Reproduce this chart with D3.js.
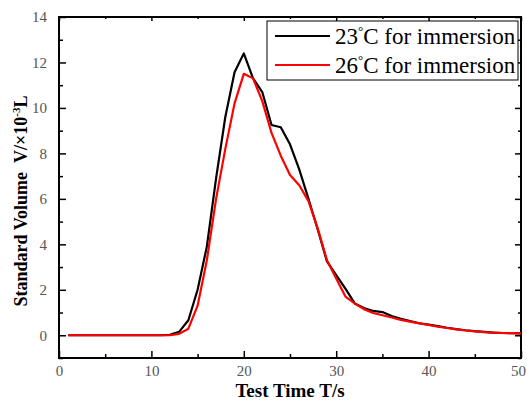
<!DOCTYPE html>
<html>
<head>
<meta charset="utf-8">
<script src="https://cdn.jsdelivr.net/npm/d3@7"></script>
<style>
  body { margin: 0; background: #fff; }
</style>
</head>
<body>
<div id="chart"></div>
<script>
(() => {
  const width = 527;
  const height = 400;

  // test time (s)
  const times = d3.range(1, 51);
  // 23 C immersion
  const vol23 = [0, 0, 0, 0, 0, 0, 0, 0, 0, 0, 0, 0.02, 0.15, 0.66, 2.0, 3.9, 6.9, 9.6, 11.57, 12.4,
    11.3, 10.7, 9.25, 9.15, 8.4, 7.3, 6.0, 4.65, 3.25, 2.65, 2.05, 1.4, 1.2, 1.07, 1.02,
    0.85, 0.72, 0.62, 0.53, 0.47, 0.4, 0.33, 0.27, 0.22, 0.18, 0.15, 0.12, 0.1, 0.09, 0.08];
  // 26 C immersion
  const vol26 = [0, 0, 0, 0, 0, 0, 0, 0, 0, 0, 0, 0.0, 0.06, 0.29, 1.3, 3.3, 6.0, 8.2, 10.2, 11.5,
    11.3, 10.3, 8.9, 7.9, 7.05, 6.6, 5.9, 4.7, 3.3, 2.5, 1.7, 1.4, 1.15, 0.98, 0.88,
    0.78, 0.68, 0.6, 0.52, 0.45, 0.38, 0.32, 0.26, 0.21, 0.17, 0.14, 0.12, 0.1, 0.09, 0.08];

  const xTicks = [0, 10, 20, 30, 40, 50];
  const xMinor = [5, 15, 25, 35, 45];
  const yTicks = [0, 2, 4, 6, 8, 10, 12, 14];
  const yMinor = [-1, 1, 3, 5, 7, 9, 11, 13];

  const margin = { top: 17, right: 6, bottom: 42, left: 59 };
  const iw = width - margin.left - margin.right;
  const ih = height - margin.top - margin.bottom;

  const x = d3.scaleLinear().domain([0, 50]).range([0, iw]);
  const y = d3.scaleLinear().domain([-1, 14]).range([ih, 0]);

  const svg = d3.select("#chart").append("svg")
    .attr("width", width)
    .attr("height", height)
    .style("display", "block");

  const g = svg.append("g")
    .attr("transform", `translate(${margin.left},${margin.top})`);

  const tickFont = "'Liberation Serif', serif";

  // axes, ticks inward
  const bottom = g.append("g").attr("transform", `translate(0,${ih})`)
    .call(d3.axisBottom(x).tickValues(xTicks).tickSize(-7).tickPadding(7));
  bottom.append("g").call(d3.axisBottom(x).tickValues(xMinor).tickSize(-4).tickFormat(""));
  // keep the last label inside the window
  bottom.selectAll(".tick text").filter(d => d === 50).attr("dx", -3);
  const top = g.append("g")
    .call(d3.axisTop(x).tickValues(xTicks).tickSize(-4).tickFormat(""));
  top.append("g").call(d3.axisTop(x).tickValues(xMinor).tickSize(-2).tickFormat(""));

  const left = g.append("g")
    .call(d3.axisLeft(y).tickValues(yTicks).tickSize(-7).tickPadding(12));
  left.append("g").call(d3.axisLeft(y).tickValues(yMinor).tickSize(-4).tickFormat(""));
  const right = g.append("g").attr("transform", `translate(${iw},0)`)
    .call(d3.axisRight(y).tickValues(yTicks).tickSize(-6).tickFormat(""));
  right.append("g").call(d3.axisRight(y).tickValues(yMinor).tickSize(-3).tickFormat(""));

  g.selectAll(".domain").remove();
  g.selectAll(".tick line").attr("stroke", "#000").attr("stroke-width", 1.5);
  g.selectAll(".tick text")
    .attr("font-family", tickFont)
    .attr("font-size", 15)
    .attr("fill", "#555");

  g.append("rect")
    .attr("width", iw)
    .attr("height", ih)
    .attr("fill", "none")
    .attr("stroke", "#000")
    .attr("stroke-width", 2);

  const line = vals => d3.line()
    .x((d, i) => x(times[i]))
    .y(d => y(d))(vals);

  g.append("path")
    .attr("d", line(vol23))
    .attr("fill", "none")
    .attr("stroke", "#000")
    .attr("stroke-width", 2.2)
    .attr("stroke-linejoin", "round");

  g.append("path")
    .attr("d", line(vol26))
    .attr("fill", "none")
    .attr("stroke", "#ff0000")
    .attr("stroke-width", 2.2)
    .attr("stroke-linejoin", "round");

  // legend
  const legend = svg.append("g");
  legend.append("rect")
    .attr("x", 267).attr("y", 21)
    .attr("width", 251).attr("height", 59)
    .attr("fill", "#fff")
    .attr("stroke", "#000")
    .attr("stroke-width", 1);

  const items = [
    { t: "23", color: "#000", yy: 36 },
    { t: "26", color: "#ff0000", yy: 65 }
  ];
  items.forEach(it => {
    legend.append("line")
      .attr("x1", 275).attr("x2", 330)
      .attr("y1", it.yy).attr("y2", it.yy)
      .attr("stroke", it.color)
      .attr("stroke-width", 2.2);
    const txt = legend.append("text")
      .attr("x", 335).attr("y", it.yy + 8)
      .attr("font-family", tickFont)
      .attr("font-size", 23)
      .attr("fill", "#000");
    txt.append("tspan").text(it.t);
    txt.append("tspan").attr("font-size", 13).attr("dy", -9).text("°");
    txt.append("tspan").attr("dy", 9).text("C for immersion");
  });

  // axis titles
  svg.append("text")
    .attr("x", margin.left + iw / 2)
    .attr("y", 397)
    .attr("text-anchor", "middle")
    .attr("font-family", tickFont)
    .attr("font-weight", "bold")
    .attr("font-size", 19)
    .text("Test Time T/s");

  const yl = svg.append("text")
    .attr("transform", `translate(27,${201}) rotate(-90)`)
    .attr("text-anchor", "middle")
    .attr("font-family", tickFont)
    .attr("font-weight", "bold")
    .attr("font-size", 18);
  yl.append("tspan").text("Standard Volume\u00a0\u00a0V/×10");
  yl.append("tspan").attr("font-size", 11).attr("dy", -7).text("-3");
  yl.append("tspan").attr("dy", 7).text("L");
})();
</script>
</body>
</html>
